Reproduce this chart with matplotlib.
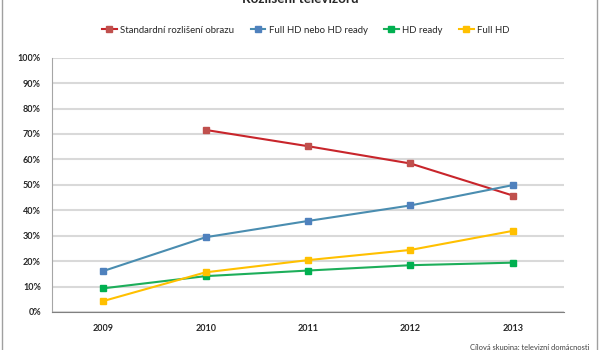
import matplotlib.pyplot as plt
from matplotlib.lines import Line2D
from matplotlib.ticker import FuncFormatter

years = ["2009", "2010", "2011", "2012", "2013"]
standard = [None, 71.6, 65.2, 58.4, 45.8]
full_or_hd_ready = [16.1, 29.4, 35.8, 41.9, 49.9]
hd_ready = [9.3, 14.1, 16.3, 18.4, 19.4]
full_hd = [4.3, 15.6, 20.4, 24.4, 31.9]

series_names = ["Standardní rozlišení obrazu", "Full HD nebo HD ready", "HD ready", "Full HD"]
line_colors = ["#C8252B", "#4A8DB0", "#1DAE5A", "#FFC000"]
marker_colors = ["#C0504D", "#4F81BD", "#00B050", "#FFC000"]

plt.rcParams['font.family'] = ['Lato', 'DejaVu Sans']

fig = plt.figure(figsize=(6, 3.5), dpi=100)
ax = fig.add_axes([0.0867, 0.1086, 0.8533, 0.7265])

x = list(range(len(years)))
for vals, name, lc, mc in zip([standard, full_or_hd_ready, hd_ready, full_hd],
                              series_names, line_colors, marker_colors):
    xs = [i for i, v in zip(x, vals) if v is not None]
    ys = [v for v in vals if v is not None]
    ax.plot(xs, ys, color=lc, lw=1.5, marker='s', markersize=3.8,
            markerfacecolor=mc, markeredgecolor=mc, label=name, zorder=3)

ax.set_xlim(-0.5, 4.5)
ax.set_ylim(0, 100)
ax.set_yticks(range(0, 101, 10))
ax.yaxis.set_major_formatter(FuncFormatter(lambda v, p: "%d%%" % v))
ax.set_xticks(x)
ax.set_xticklabels(years)
ax.grid(axis='y', color='#D9D9D9', lw=1.5, zorder=0)
ax.tick_params(length=0, labelsize=6.5)
ax.tick_params(axis='y', pad=8)
ax.tick_params(axis='x', pad=9)
for lab in ax.get_xticklabels() + ax.get_yticklabels():
    lab.set_fontweight('bold')
    lab.set_color('#262626')
for s in ['top', 'right']:
    ax.spines[s].set_visible(False)
ax.spines['left'].set_color('#A6A6A6')
ax.spines['bottom'].set_color('#808080')
ax.spines['bottom'].set_zorder(4)

leg = fig.legend(loc='center', bbox_to_anchor=(0.51, 0.914), ncol=4, frameon=False,
                 fontsize=6.9, handlelength=1.5, columnspacing=1.7, handletextpad=0.4)
for t in leg.get_texts():
    t.set_color('#262626')

fig.text(0.5, 1 - 3.0 / 350, "Rozlišení televizorů", ha='center', va='baseline',
         fontsize=9.6, fontweight='bold', color='#262626')
fig.text(590 / 600, 1 - 344 / 350, "Cílová skupina: televizní domácnosti", ha='right', va='top',
         fontsize=5.4, color='#404040')

fig.add_artist(Line2D([0.004, 0.004], [0, 1], color='#A0A0A0', lw=1))
fig.add_artist(Line2D([0.995, 0.995], [0, 1], color='#A0A0A0', lw=1))

fig.savefig("out.png", dpi=100)
